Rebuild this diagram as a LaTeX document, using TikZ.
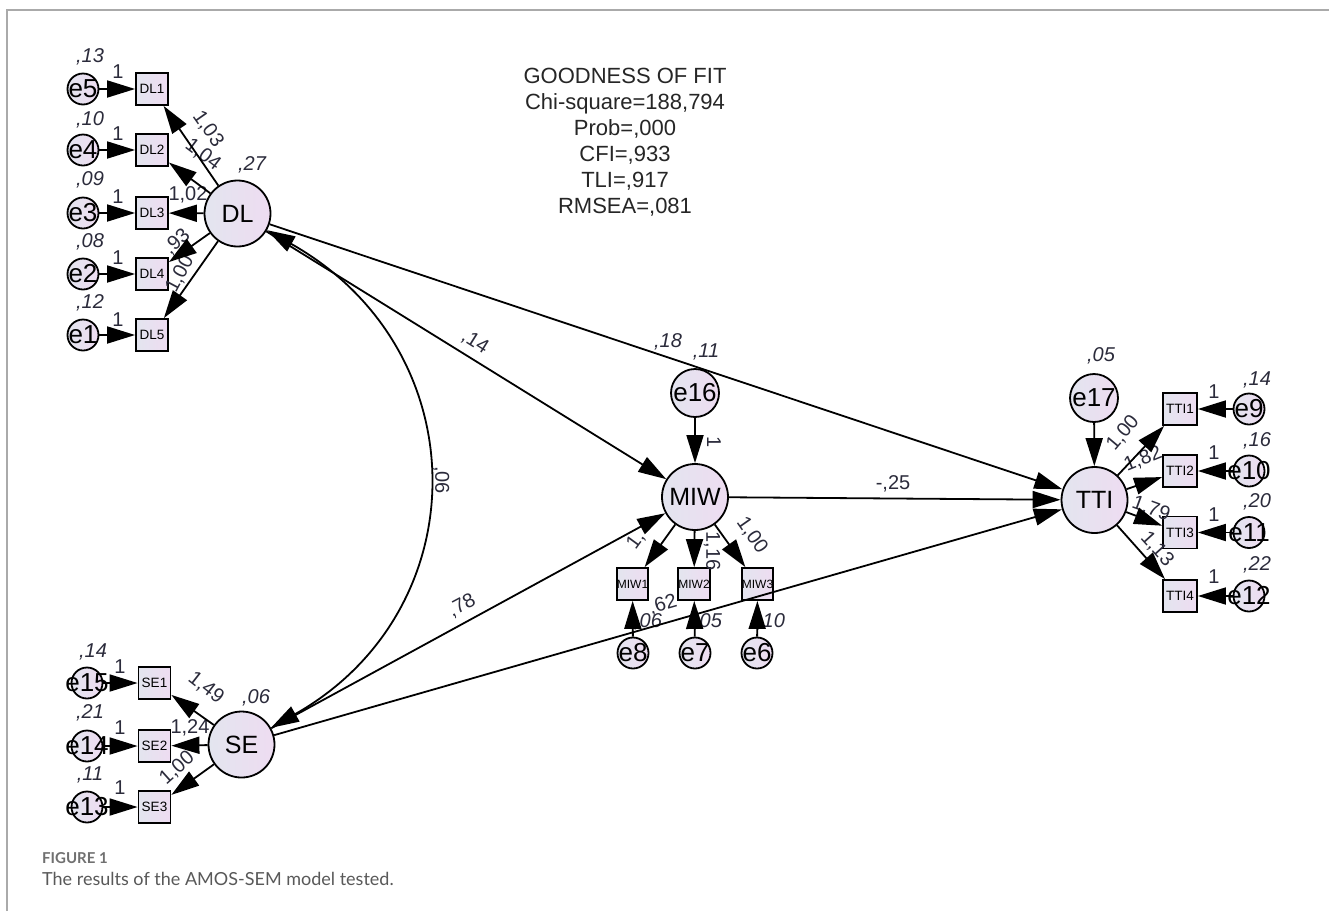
\documentclass[tikz,border=0pt]{standalone}
\usepackage{fontspec}
\setmainfont{Liberation Sans}
\newfontfamily\capfont{Lato}
\usetikzlibrary{arrows.meta}
\definecolor{nodeL}{HTML}{E3E5EF}
\definecolor{nodeR}{HTML}{EEDCF1}
\definecolor{labc}{HTML}{2B2B3B}
\definecolor{framec}{HTML}{AAAAAA}
\definecolor{capgray}{HTML}{707070}
\definecolor{captext}{HTML}{595959}
\begin{document}
\begin{tikzpicture}[x=1pt,y=-1pt,
  every node/.style={inner sep=0pt},
  latent/.style={circle, draw, line width=1.8pt, left color=nodeL, right color=nodeR, minimum size=66pt, font=\fontsize{25}{25}\selectfont},
  errbig/.style={circle, draw, line width=1.8pt, left color=nodeL, right color=nodeR, minimum size=48pt, font=\fontsize{26}{26}\selectfont},
  errsm/.style={circle, draw, line width=1.8pt, left color=nodeL, right color=nodeR, minimum size=31pt, font=\fontsize{26}{26}\selectfont},
  obs/.style={rectangle, draw, line width=1.8pt, left color=nodeL, right color=nodeR, minimum width=32pt, minimum height=32pt, font=\fontsize{13.5}{13.5}\selectfont},
  lab/.style={text=labc, font=\fontsize{20}{20}\selectfont},
  vlab/.style={text=labc, font=\fontsize{20}{20}\selectfont\itshape},
  arr/.style={line width=1.8pt, -{Triangle[length=28pt,width=17pt]}},
  dbl/.style={line width=1.8pt, {Triangle[length=28pt,width=17pt]}-{Triangle[length=28pt,width=17pt]}},
]
\useasboundingbox (0,0) rectangle (1329,911);
\fill[white] (0,0) rectangle (1329,911);
\draw[framec, line width=1.2pt] (7,911) -- (7,10) -- (1329,10);

% ---------- DL block ----------
\node[latent] (DL) at (237.5,213.5) {DL};
\node[obs] (DL1) at (152,89) {DL1};
\node[obs] (DL2) at (152,150) {DL2};
\node[obs] (DL3) at (152,213) {DL3};
\node[obs] (DL4) at (152,274) {DL4};
\node[obs] (DL5) at (152,335) {DL5};
\node[errsm] (e5) at (83,89) {\makebox[0pt]{e5}};
\node[errsm] (e4) at (83,150) {\makebox[0pt]{e4}};
\node[errsm] (e3) at (83,213) {\makebox[0pt]{e3}};
\node[errsm] (e2) at (83,274) {\makebox[0pt]{e2}};
\node[errsm] (e1) at (83,335) {\makebox[0pt]{e1}};

% ---------- SE block ----------
\node[latent] (SE) at (241.5,744.5) {SE};
\node[obs] (SE1) at (154.5,683) {SE1};
\node[obs] (SE2) at (154.5,746) {SE2};
\node[obs] (SE3) at (154.5,807) {SE3};
\node[errsm] (e15) at (87,683) {\makebox[0pt]{e15}};
\node[errsm] (e14) at (87,746) {\makebox[0pt]{e14}};
\node[errsm] (e13) at (87,807) {\makebox[0pt]{e13}};

% ---------- MIW block ----------
\node[latent] (MIW) at (695,497) {MIW};
\node[errbig] (e16) at (695,393) {\makebox[0pt]{e16}};
\node[obs, minimum width=31pt, font=\fontsize{12}{12}\selectfont] (MIW1) at (632.5,584) {MIW1};
\node[obs, minimum width=31pt, font=\fontsize{12}{12}\selectfont] (MIW2) at (694,584) {MIW2};
\node[obs, minimum width=31pt, font=\fontsize{12}{12}\selectfont] (MIW3) at (757.5,584) {MIW3};
\node[errsm] (e8) at (633,653) {\makebox[0pt]{e8}};
\node[errsm] (e7) at (695,653) {\makebox[0pt]{e7}};
\node[errsm] (e6) at (757,653) {\makebox[0pt]{e6}};

% ---------- TTI block ----------
\node[latent] (TTI) at (1094.5,500) {TTI};
\node[errbig] (e17) at (1094,398) {\makebox[0pt]{e17}};
\node[obs, minimum width=34pt] (TTI1) at (1180,409) {TTI1};
\node[obs, minimum width=34pt] (TTI2) at (1180,471) {TTI2};
\node[obs, minimum width=34pt] (TTI3) at (1180,532.5) {TTI3};
\node[obs, minimum width=34pt] (TTI4) at (1180,596) {TTI4};
\node[errsm] (e9) at (1249,409) {\makebox[0pt]{e9}};
\node[errsm] (e10) at (1249,471) {\makebox[0pt]{e10}};
\node[errsm] (e11) at (1249,532.5) {\makebox[0pt]{e11}};
\node[errsm] (e12) at (1249,596) {\makebox[0pt]{e12}};

% ---------- fit text ----------
\node[align=center, font=\fontsize{22}{26}\selectfont, text=black!85] (fit) at (625,142)
 {GOODNESS OF FIT\\Chi-square=188,794\\Prob=,000\\CFI=,933\\TLI=,917\\RMSEA=,081};

% ---------- labels ----------
\node[vlab] at (90,57) {,13};
\node[vlab] at (90,120) {,10};
\node[vlab] at (90,180) {,09};
\node[vlab] at (90,242) {,08};
\node[vlab] at (90,303) {,12};
\node[lab] at (118,72) {1};
\node[lab] at (118,134) {1};
\node[lab] at (118,197) {1};
\node[lab] at (118,258) {1};
\node[lab] at (118,320) {1};
\node[vlab] at (252,165) {,27};
\node[lab, rotate=-55] at (208,129) {1,03};
\node[lab, rotate=-37] at (203,155) {1,04};
\node[lab] at (188,195) {1,02};
\node[lab, rotate=42] at (177,242) {,93};
\node[lab, rotate=62] at (180,274) {1,00};

\node[vlab] at (93,652) {,14};
\node[vlab] at (90,713) {,21};
\node[vlab] at (90,775) {,11};
\node[lab] at (120,667) {1};
\node[lab] at (120,728) {1};
\node[lab] at (120,788) {1};
\node[vlab] at (256,698) {,06};
\node[lab, rotate=-38] at (206,688) {1,49};
\node[lab] at (190,728) {1,24};
\node[lab, rotate=42] at (177,768) {1,00};

\node[lab, rotate=-32] at (475,342) {,14};
\node[lab, rotate=-90] at (441,480) {,06};
\node[lab, rotate=28] at (462,606) {,78};
\node[lab, rotate=16] at (663,605) {,62};
\node[vlab] at (668,342) {,18};
\node[vlab] at (706,352) {,11};
\node[lab] at (893,484) {-,25};

\node[lab, rotate=-90] at (714,442) {1};
\node[lab, rotate=54] at (636,540) {1,};
\node[lab, rotate=-90] at (712,551) {1,16};
\node[lab, rotate=-55] at (752,535) {1,00};
\node[vlab] at (648,622) {,06};
\node[vlab] at (708,622) {,05};
\node[vlab] at (771,622) {,10};

\node[vlab] at (1101,356) {,05};
\node[lab, rotate=50] at (1123,433) {1,00};
\node[lab, rotate=22] at (1143,459) {1,82};
\node[lab, rotate=-20] at (1151,509) {1,79};
\node[lab, rotate=-48] at (1157,549) {1,13};
\node[vlab] at (1257,380) {,14};
\node[vlab] at (1257,441) {,16};
\node[vlab] at (1257,502) {,20};
\node[vlab] at (1257,565) {,22};
\node[lab] at (1214,392) {1};
\node[lab] at (1214,453) {1};
\node[lab] at (1214,515) {1};
\node[lab] at (1214,577) {1};

% ---------- connectors ----------
\foreach \e/\b in {e5/DL1,e4/DL2,e3/DL3,e2/DL4,e1/DL5,e15/SE1,e14/SE2,e13/SE3,e8/MIW1,e7/MIW2,e6/MIW3,e9/TTI1,e10/TTI2,e11/TTI3,e12/TTI4}
  \draw[arr] (\e) -- (\b);
\foreach \b in {DL1,DL2,DL3,DL4,DL5}
  \draw[arr] (DL) -- (\b);
\foreach \b in {SE1,SE2,SE3}
  \draw[arr] (SE) -- (\b);
\foreach \b in {MIW1,MIW2,MIW3}
  \draw[arr] (MIW) -- (\b);
\foreach \b in {TTI1,TTI2,TTI3,TTI4}
  \draw[arr] (TTI) -- (\b);
\draw[arr] (e16) -- (MIW);
\draw[arr] (e17) -- (TTI);
\draw[dbl] (DL) .. controls (479,350) and (479,610) .. (SE);
\draw[arr] (DL) -- (MIW);
\draw[arr] (DL) -- (TTI);
\draw[arr] (SE) -- (MIW);
\draw[arr] (SE) -- (TTI);
\draw[arr] (MIW) -- (TTI);

% ---------- caption ----------
\node[anchor=base west, text=capgray, font={\capfont\fontsize{15}{15}\selectfont\bfseries}] (capA) at (42,863) {FIGURE 1};
\node[anchor=base west, text=captext, font={\capfont\fontsize{18}{18}\selectfont}] (capB) at (42,885) {The results of the AMOS-SEM model tested.};
\end{tikzpicture}
\end{document}
